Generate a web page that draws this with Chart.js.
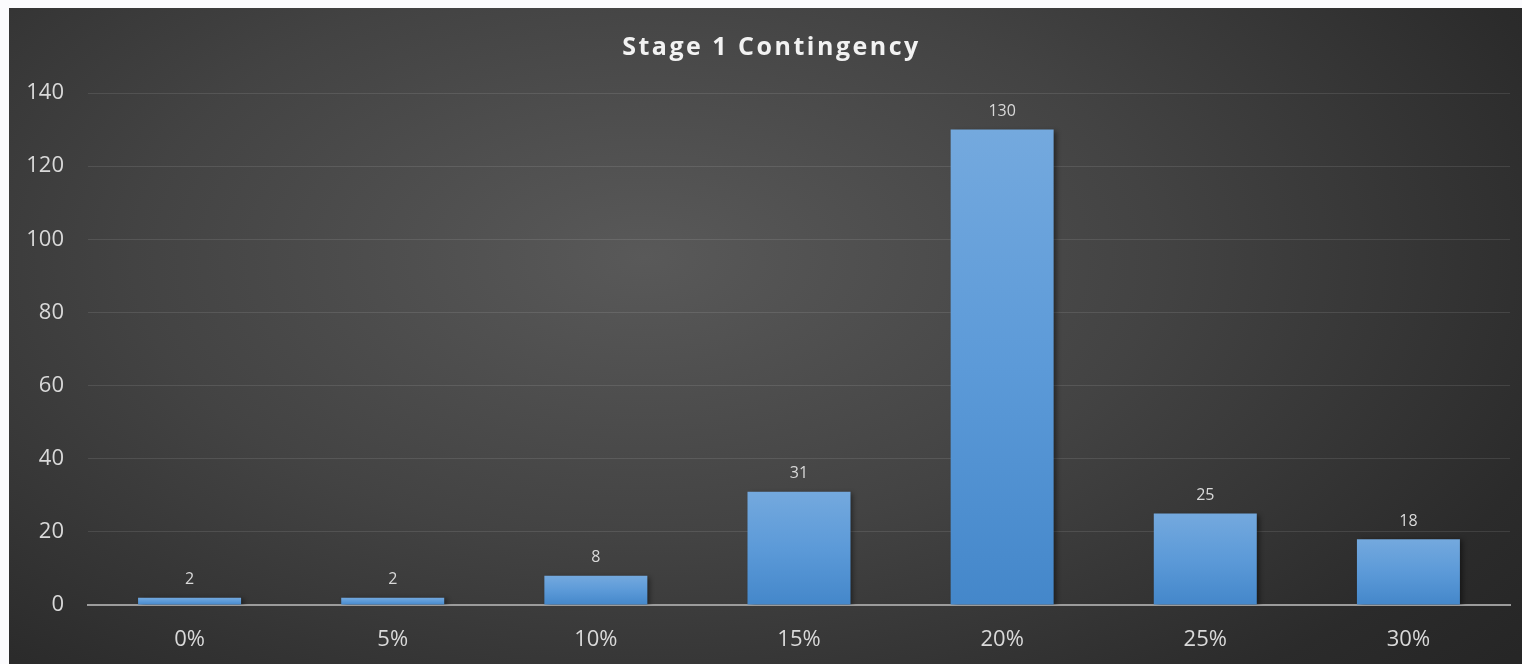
<!DOCTYPE html>
<html>
<head>
<meta charset="utf-8">
<script src="https://cdn.jsdelivr.net/npm/chart.js@4.4.1/dist/chart.umd.min.js"></script>
<style>
    html, body { margin: 0; padding: 0; background: #fbfbfd; }
    #wrap {
        position: absolute; left: 9px; top: 8px; width: 1513px; height: 656px;
        background: radial-gradient(ellipse 75% 95% at 42% 38%, #595959 0%, #434343 45%, #2b2b2b 85%, #262626 100%);
    }
</style>
</head>
<body>
<div id="wrap"><canvas id="chart"></canvas></div>
<script>
// values
const categories = ["0%", "5%", "10%", "15%", "20%", "25%", "30%"];
const counts = [2, 2, 8, 31, 130, 25, 18];
const yTicks = [0, 20, 40, 60, 80, 100, 120, 140];
const chartTitle = "Stage 1 Contingency";

const FONT = "'Open Sans', sans-serif";

// per-bar vertical gradient, lighter at the top
function barFill(ctx) {
    const chart = ctx.chart;
    const y = chart.scales.y;
    if (!y || ctx.parsed == null) return "#5b9bd5";
    const top = y.getPixelForValue(ctx.parsed.y);
    const bottom = y.getPixelForValue(0);
    if (!isFinite(top) || bottom - top < 1) return "#5b9bd5";
    const g = chart.ctx.createLinearGradient(0, top, 0, bottom);
    g.addColorStop(0, "#74a9de");
    g.addColorStop(0.5, "#5c9ad8");
    g.addColorStop(1, "#4487ca");
    return g;
}

const barShadow = {
    id: "barShadow",
    beforeDatasetsDraw(chart) {
        const c = chart.ctx;
        c.save();
        c.shadowColor = "rgba(0,0,0,0.45)";
        c.shadowBlur = 5;
        c.shadowOffsetX = 3;
        c.shadowOffsetY = 1;
    },
    afterDatasetsDraw(chart) {
        chart.ctx.restore();
    }
};

const valueLabels = {
    id: "valueLabels",
    afterDatasetsDraw(chart) {
        const c = chart.ctx;
        const meta = chart.getDatasetMeta(0);
        c.save();
        c.font = "16px " + FONT;
        c.fillStyle = "#d9d9d9";
        c.textAlign = "center";
        c.textBaseline = "bottom";
        meta.data.forEach((bar, i) => {
            c.fillText(String(counts[i]), bar.x, bar.y - 10);
        });
        c.restore();
    }
};

const titleSpaced = {
    id: "titleSpaced",
    afterDraw(chart) {
        const c = chart.ctx;
        c.save();
        c.font = "bold 25px " + FONT;
        c.letterSpacing = "2.5px";
        c.fillStyle = "#f2f2f2";
        c.textAlign = "center";
        c.textBaseline = "middle";
        c.fillText(chartTitle, chart.width / 2 + 6, 40);
        c.restore();
    }
};

new Chart(document.getElementById("chart"), {
    type: "bar",
    data: {
        labels: categories,
        datasets: [{
            data: counts,
            backgroundColor: barFill,
            borderWidth: 0,
            categoryPercentage: 1,
            barPercentage: 0.507
        }]
    },
    options: {
        responsive: true,
        maintainAspectRatio: false,
        animation: false,
        layout: { padding: { top: 85, right: 12, bottom: 0, left: 0 } },
        plugins: {
            legend: { display: false },
            tooltip: { enabled: false }
        },
        scales: {
            x: {
                grid: { display: false, drawTicks: false },
                border: { color: "#9c9c9c", width: 2 },
                ticks: { color: "#d9d9d9", font: { family: FONT, size: 22 }, padding: 22 },
                afterFit(s) { s.height = 59; }
            },
            y: {
                min: 0,
                max: 140,
                afterBuildTicks(s) { s.ticks = yTicks.map(v => ({ value: v })); },
                grid: { color: "rgba(255,255,255,0.10)", lineWidth: 1, drawTicks: false },
                border: { display: false },
                ticks: { color: "#d9d9d9", font: { family: FONT, size: 22 }, padding: 24 },
                afterFit(s) { s.width = 79; }
            }
        }
    },
    plugins: [barShadow, valueLabels, titleSpaced]
});
</script>
</body>
</html>
